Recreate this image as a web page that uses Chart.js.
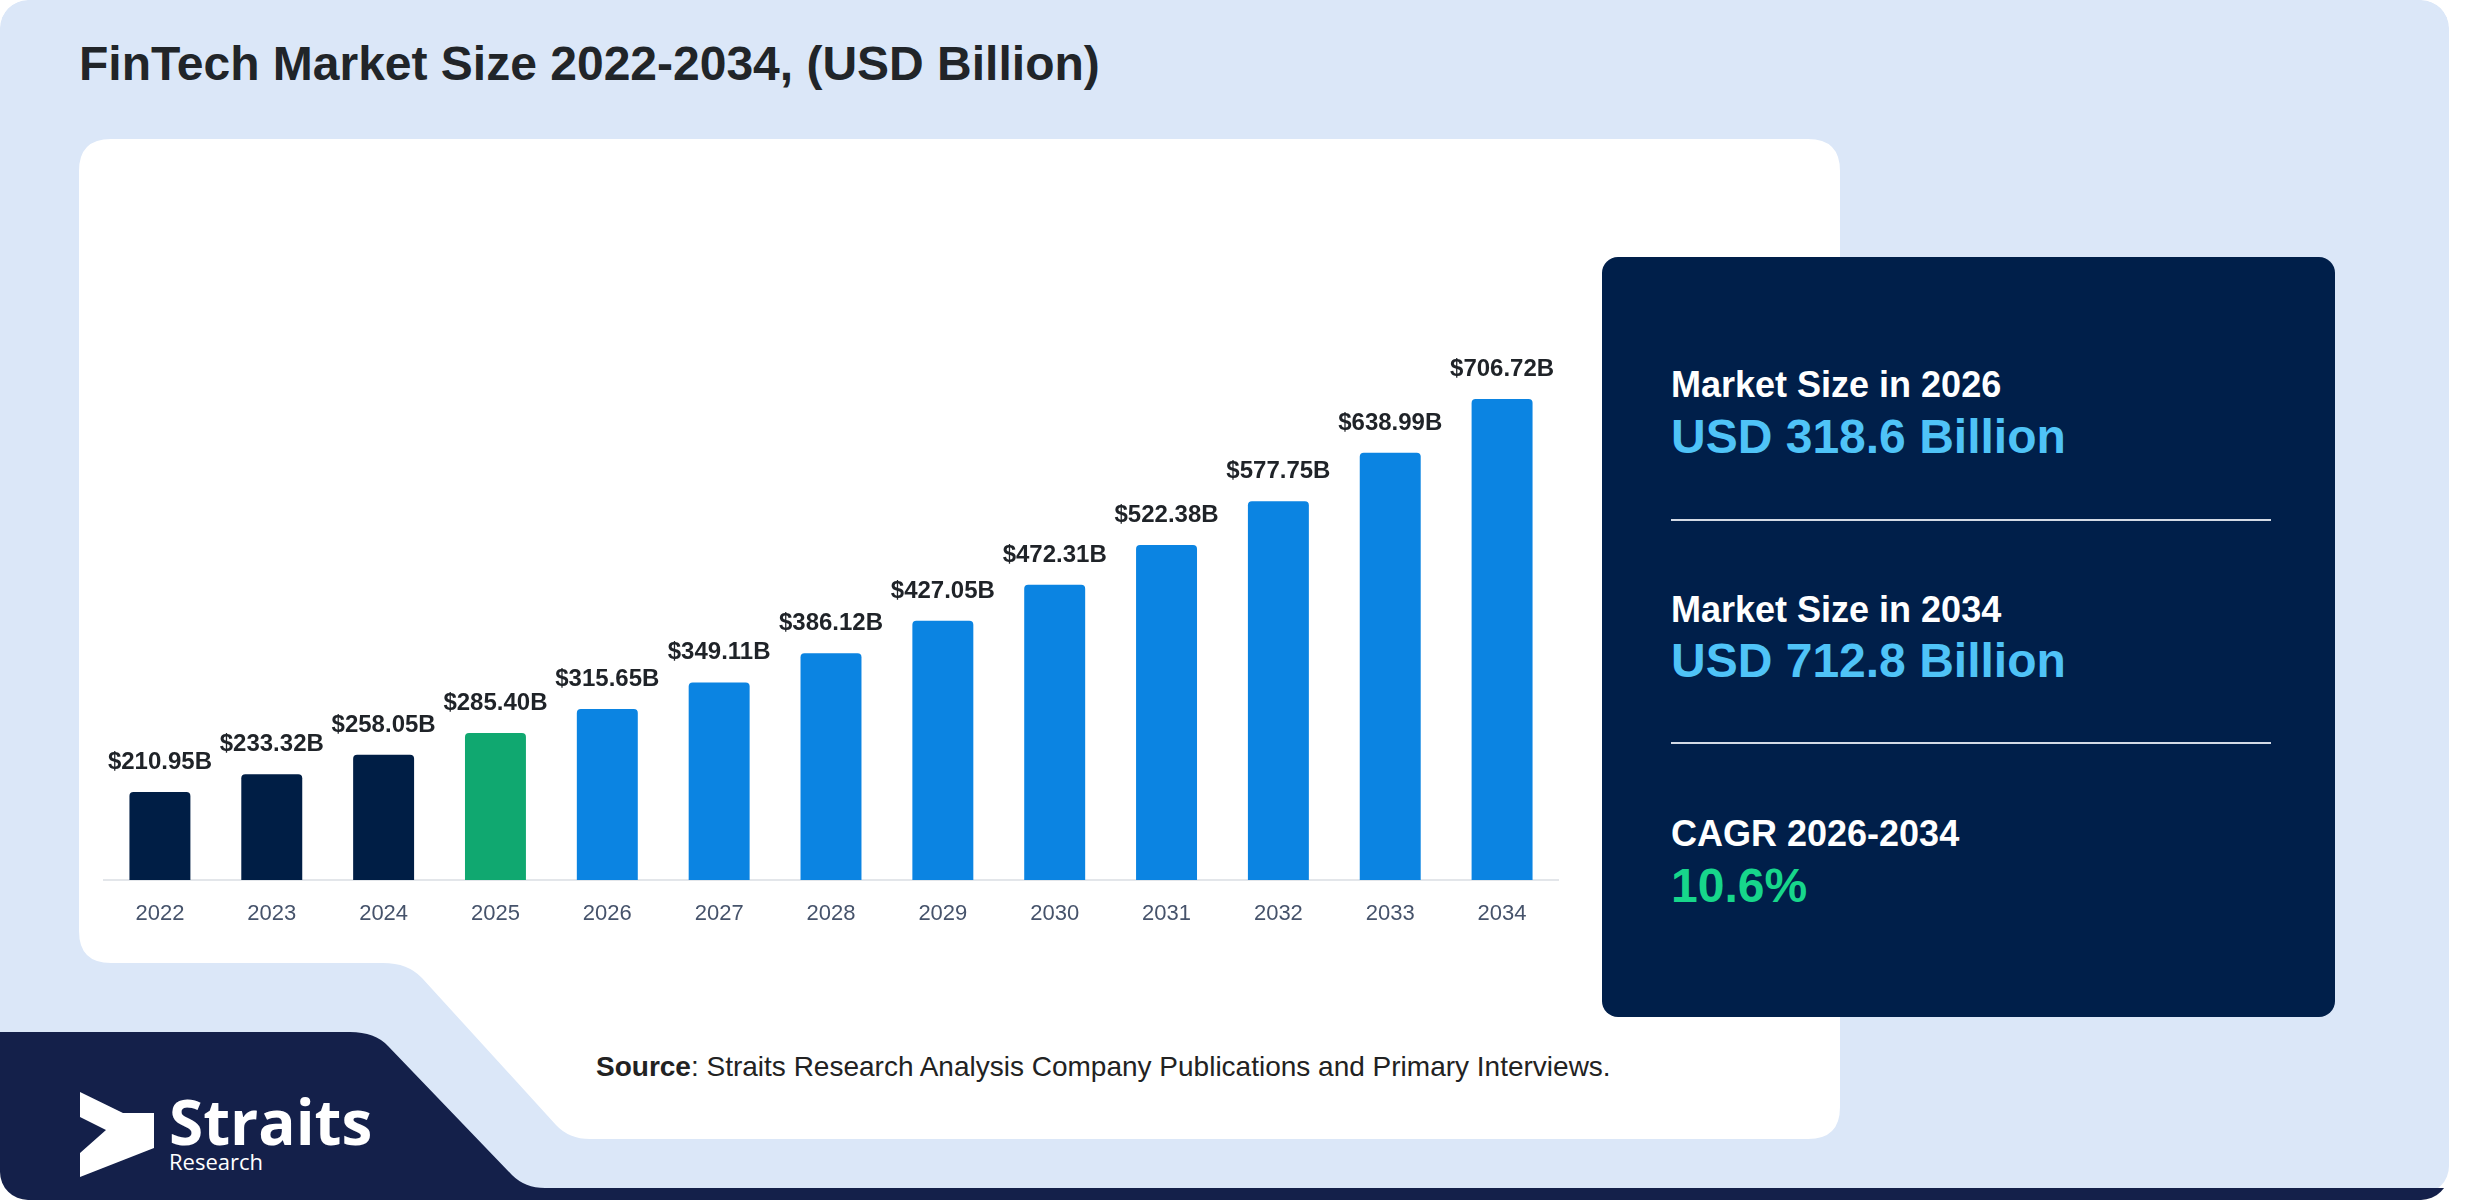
<!DOCTYPE html>
<html>
<head>
<meta charset="utf-8">
<script src="https://cdn.jsdelivr.net/npm/chart.js@4.4.1/dist/chart.umd.min.js"></script>
<style>
  html, body { margin: 0; padding: 0; background: #ffffff; }
  body { width: 2480px; height: 1200px; position: relative; overflow: hidden;
         font-family: "Liberation Sans", Arial, sans-serif; }
  #bg { position: absolute; left: 0; top: 0; }
  #chart { position: absolute; left: 79px; top: 139px; }
</style>
</head>
<body>

<svg id="bg" width="2480" height="1200" xmlns="http://www.w3.org/2000/svg">
  <defs>
    <clipPath id="frame"><rect x="0" y="0" width="2449" height="1200" rx="28" ry="28"/></clipPath>
  </defs>
  <g clip-path="url(#frame)">
    <rect x="0" y="0" width="2449" height="1194" rx="28" ry="28" fill="#dbe7f8"/>
    <!-- navy footer shape -->
    <path d="M0,1032 H350 Q375,1032 388,1046 L512,1175 Q525,1188 545,1188 H2449 V1200 H0 Z" fill="#14204a"/>
  </g>
  <!-- white chart panel -->
  <path d="M111,139 H1808 Q1840,139 1840,171 V1107 Q1840,1139 1808,1139 H590 Q569,1139 556,1125
           L422,978 Q408,963 383,963 H111 Q79,963 79,931 V171 Q79,139 111,139 Z" fill="#ffffff"/>

  <text x="79" y="80" font-family="Liberation Sans, Arial, sans-serif" font-weight="bold"
        font-size="48" fill="#212529">FinTech Market Size 2022-2034, (USD Billion)</text>

  <!-- summary panel -->
  <rect x="1602" y="257" width="733" height="760" rx="16" ry="16" fill="#001f4a"/>
  <g font-family="Liberation Sans, Arial, sans-serif" font-weight="bold">
    <text x="1671" y="397" font-size="36" fill="#ffffff">Market Size in 2026</text>
    <text x="1671" y="453" font-size="48" fill="#4fc3f7">USD 318.6 Billion</text>
    <line x1="1671" y1="520" x2="2271" y2="520" stroke="#d3dae5" stroke-width="2"/>
    <text x="1671" y="622" font-size="36" fill="#ffffff">Market Size in 2034</text>
    <text x="1671" y="677" font-size="48" fill="#4fc3f7">USD 712.8 Billion</text>
    <line x1="1671" y1="743" x2="2271" y2="743" stroke="#d3dae5" stroke-width="2"/>
    <text x="1671" y="846" font-size="36" fill="#ffffff">CAGR 2026-2034</text>
    <text x="1671" y="902" font-size="48" fill="#17d68b">10.6%</text>
  </g>

  <text x="596" y="1076" font-family="Liberation Sans, Arial, sans-serif" font-size="28" fill="#222222"><tspan font-weight="bold">Source</tspan>: Straits Research Analysis Company Publications and Primary Interviews.</text>

  <!-- logo -->
  <path d="M80,1092 L123,1113 L154,1113 L154,1148 L80,1177 L80,1153 L106,1130 L80,1117 Z" fill="#ffffff"/>
  <text x="169" y="1145" font-family="Open Sans, sans-serif" font-weight="bold" font-size="62" fill="#ffffff">Straits</text>
  <text x="169" y="1170" font-family="Open Sans, sans-serif" font-size="22" fill="#ffffff">Research</text>
</svg>

<canvas id="chart" width="1761" height="850"></canvas>

<script>
/* ── DATA ── */
const years      = ['2022', '2023', '2024', '2025', '2026', '2027', '2028',
                    '2029', '2030', '2031', '2032', '2033', '2034'];
const marketSize = [210.95, 233.32, 258.05, 285.40, 315.65, 349.11, 386.12,
                    427.05, 472.31, 522.38, 577.75, 638.99, 706.72];
const baseYear   = '2025';

/* ── STYLE ── */
const COLORS = { hist: '#001e45', base: '#10a870', fc: '#0b84e2' };

function barColor(y) {
  if (y < baseYear) return COLORS.hist;
  if (y === baseYear) return COLORS.base;
  return COLORS.fc;
}

const valueLabels = {
  id: 'valueLabels',
  afterDatasetsDraw(chart) {
    const ctx = chart.ctx;
    const meta = chart.getDatasetMeta(0);
    ctx.save();
    ctx.font = 'bold 24px "Liberation Sans", Arial, sans-serif';
    ctx.fillStyle = '#1f2328';
    ctx.textAlign = 'center';
    ctx.textBaseline = 'alphabetic';
    meta.data.forEach((bar, i) => {
      ctx.fillText('$' + marketSize[i].toFixed(2) + 'B', bar.x, bar.y - 23);
    });
    ctx.restore();
  }
};

new Chart(document.getElementById('chart'), {
  type: 'bar',
  data: {
    labels: years,
    datasets: [{
      data: marketSize,
      backgroundColor: years.map(barColor),
      borderRadius: 4,
      borderSkipped: 'bottom',
      categoryPercentage: 1,
      barPercentage: 0.545
    }]
  },
  options: {
    responsive: false,
    animation: false,
    layout: { padding: { left: 25, right: 282, top: 186, bottom: 49 } },
    plugins: { legend: { display: false }, tooltip: { enabled: false } },
    scales: {
      x: {
        grid: { display: false, drawTicks: false },
        border: { display: true, color: '#e3e6ea', width: 2 },
        ticks: {
          color: '#46536b',
          padding: 21,
          font: { family: '"Liberation Sans", Arial, sans-serif', size: 22 }
        },
        afterFit(scale) { scale.height = 60; }
      },
      y: {
        display: false,
        min: 100,
        max: 800
      }
    }
  },
  plugins: [valueLabels]
});
</script>
</body>
</html>
